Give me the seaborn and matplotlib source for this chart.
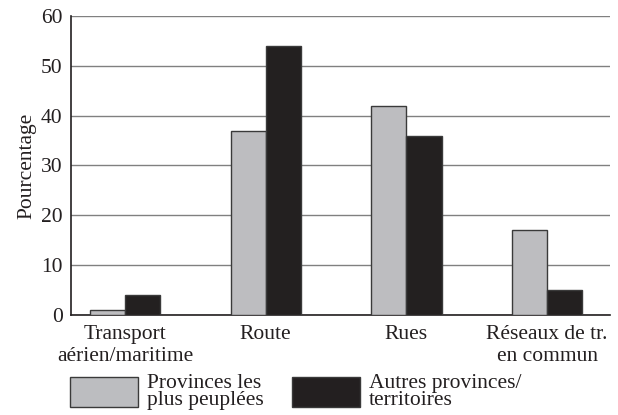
import pandas as pd
import matplotlib
matplotlib.use("Agg")
import matplotlib.pyplot as plt
import seaborn as sns
from matplotlib.patches import Patch

# Chart data
categories = ["Transport\naérien/maritime", "Route", "Rues", "Réseaux de tr.\nen commun"]
series_names = ["Provinces les\nplus peuplées", "Autres provinces/\nterritoires"]
populous = [1, 37, 42, 17]
other = [4, 54, 36, 5]
y_ticks = [0, 10, 20, 30, 40, 50, 60]

COLORS = ["#bcbdc0", "#231f20"]
EDGE = "#3a3a3a"
FS = 15.5

df = pd.DataFrame({
    "Catégorie": categories * 2,
    "Groupe": [series_names[0]] * len(categories) + [series_names[1]] * len(categories),
    "Pourcentage": populous + other,
})

sns.set_style("white")
plt.rcParams["font.family"] = ["Liberation Serif", "DejaVu Serif"]

fig = plt.figure(figsize=(6.18, 4.15), dpi=100)
ax = fig.add_axes([0.1149, 0.241, 0.872, 0.7205])

sns.barplot(data=df, x="Catégorie", y="Pourcentage", hue="Groupe",
            palette=COLORS, width=0.5, edgecolor=EDGE, linewidth=1,
            legend=False, ax=ax, zorder=3)

ax.set_xlim(-0.384, 3.447)
ax.set_ylim(0, 60)
ax.set_yticks(y_ticks)
ax.yaxis.grid(True, color="#808080", linewidth=1, zorder=0)
ax.set_axisbelow(True)

for side in ["top", "right"]:
    ax.spines[side].set_visible(False)
for side in ["left", "bottom"]:
    ax.spines[side].set_color("#231f20")
    ax.spines[side].set_linewidth(1.2)

ax.tick_params(axis="both", length=0, labelsize=FS, colors="#231f20")
ax.tick_params(axis="y", pad=6)
ax.tick_params(axis="x", pad=7.5)
ax.set_xlabel("")
ax.set_ylabel("Pourcentage", fontsize=FS, color="#231f20", labelpad=3)

handles = [Patch(facecolor=c, edgecolor=EDGE, linewidth=1) for c in COLORS]
leg = fig.legend(handles, series_names, loc="lower left", bbox_to_anchor=(0.1, -0.009),
                 ncol=2, frameon=False, fontsize=FS, handlelength=3.15, handleheight=1.77,
                 handletextpad=0.42, columnspacing=1.3, borderaxespad=0)
for t in leg.get_texts():
    t.set_linespacing(0.85)
    t.set_color("#231f20")

fig.savefig("out.png", dpi=100)
